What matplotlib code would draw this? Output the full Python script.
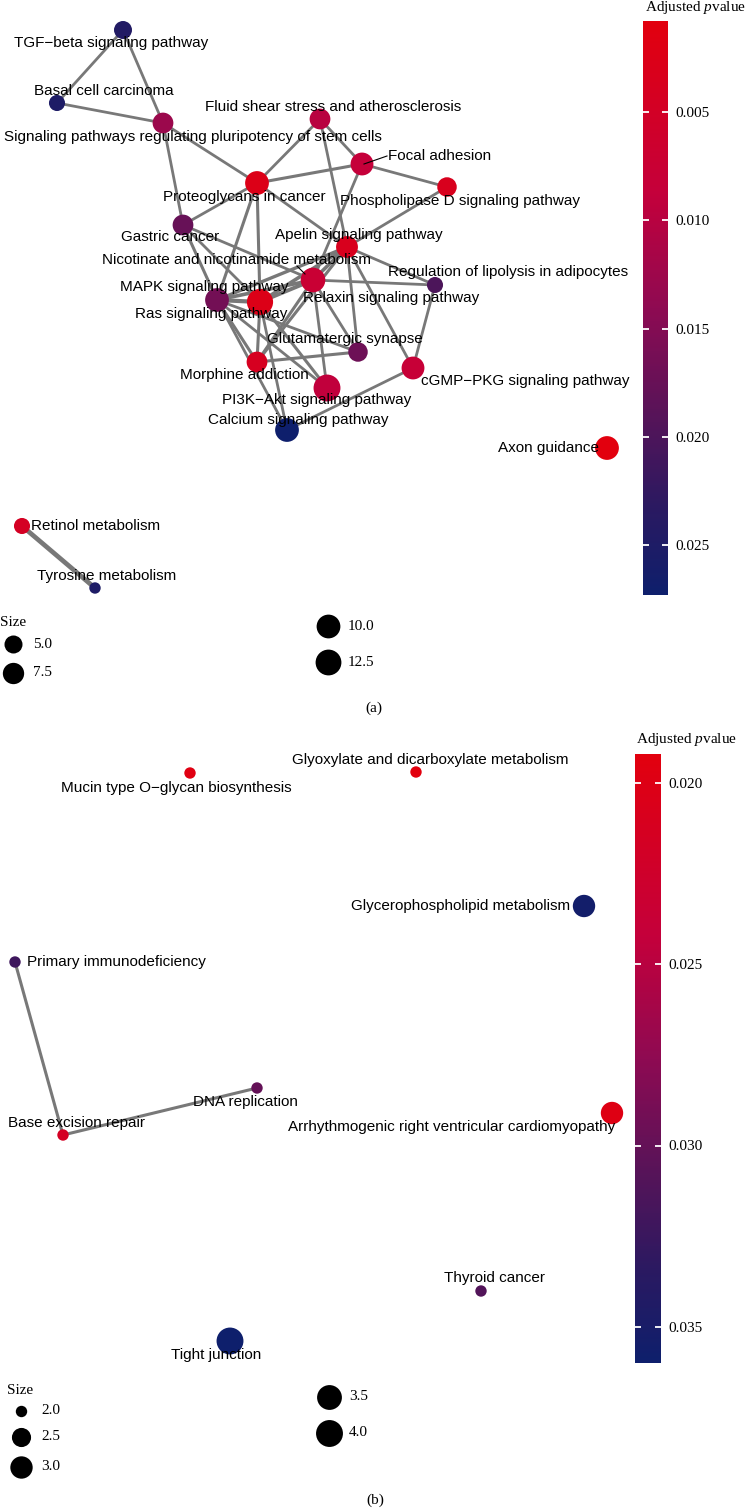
import numpy as np
import matplotlib
matplotlib.use('Agg')
import matplotlib.pyplot as plt
from matplotlib.colors import LinearSegmentedColormap, Normalize
from matplotlib.cm import ScalarMappable

plt.rcParams['font.family'] = ['Liberation Sans', 'DejaVu Sans']
plt.rcParams['mathtext.fontset'] = 'custom'
plt.rcParams['mathtext.rm'] = 'Liberation Serif'
plt.rcParams['mathtext.it'] = 'Liberation Serif:italic'

# ---------------- panel (a) ----------------
a_terms = ['TGF−beta signaling pathway', 'Basal cell carcinoma',
           'Signaling pathways regulating pluripotency of stem cells',
           'Fluid shear stress and atherosclerosis', 'Focal adhesion',
           'Phospholipase D signaling pathway', 'Proteoglycans in cancer',
           'Gastric cancer', 'Apelin signaling pathway',
           'Nicotinate and nicotinamide metabolism', 'Relaxin signaling pathway',
           'Regulation of lipolysis in adipocytes', 'MAPK signaling pathway',
           'Ras signaling pathway', 'Glutamatergic synapse', 'Morphine addiction',
           'PI3K−Akt signaling pathway', 'cGMP−PKG signaling pathway',
           'Calcium signaling pathway', 'Axon guidance', 'Retinol metabolism',
           'Tyrosine metabolism']
# layout coordinates (graph layout)
a_x = [123, 57, 163, 320, 362, 447, 257, 183, 347, 310, 313, 435, 217, 260,
       358, 257, 327, 413, 287, 607, 22, 95]
a_y = [30, 103, 123, 119, 164, 187, 183, 225, 247, 279, 280, 285, 300, 302,
       352, 362, 388, 368, 430, 448, 526, 588]
a_count = [5, 4, 7, 7, 9, 6, 10, 7, 8, 4, 11, 4, 10, 13, 6, 7, 14, 9, 10, 10, 4, 3]
a_padj = [0.0245, 0.0250, 0.0128, 0.0100, 0.0085, 0.0035, 0.0025, 0.0175,
          0.0035, 0.0090, 0.0075, 0.0200, 0.0165, 0.0025, 0.0170, 0.0040,
          0.0090, 0.0080, 0.0273, 0.0008, 0.0045, 0.0250]
a_edges = [
    ('TGF−beta signaling pathway', 'Basal cell carcinoma', 0.25),
    ('TGF−beta signaling pathway', 'Signaling pathways regulating pluripotency of stem cells', 0.25),
    ('Basal cell carcinoma', 'Signaling pathways regulating pluripotency of stem cells', 0.25),
    ('Signaling pathways regulating pluripotency of stem cells', 'Proteoglycans in cancer', 0.25),
    ('Signaling pathways regulating pluripotency of stem cells', 'Gastric cancer', 0.25),
    ('Proteoglycans in cancer', 'Fluid shear stress and atherosclerosis', 0.25),
    ('Proteoglycans in cancer', 'Focal adhesion', 0.3),
    ('Fluid shear stress and atherosclerosis', 'Focal adhesion', 0.25),
    ('Fluid shear stress and atherosclerosis', 'Apelin signaling pathway', 0.25),
    ('Focal adhesion', 'Phospholipase D signaling pathway', 0.25),
    ('Focal adhesion', 'Relaxin signaling pathway', 0.25),
    ('Phospholipase D signaling pathway', 'Apelin signaling pathway', 0.25),
    ('Proteoglycans in cancer', 'Apelin signaling pathway', 0.25),
    ('Proteoglycans in cancer', 'MAPK signaling pathway', 0.3),
    ('Proteoglycans in cancer', 'Ras signaling pathway', 0.3),
    ('Proteoglycans in cancer', 'Gastric cancer', 0.25),
    ('Gastric cancer', 'MAPK signaling pathway', 0.3),
    ('Gastric cancer', 'Ras signaling pathway', 0.25),
    ('Gastric cancer', 'Relaxin signaling pathway', 0.25),
    ('MAPK signaling pathway', 'Ras signaling pathway', 0.5),
    ('MAPK signaling pathway', 'Relaxin signaling pathway', 0.4),
    ('MAPK signaling pathway', 'Apelin signaling pathway', 0.35),
    ('MAPK signaling pathway', 'Morphine addiction', 0.3),
    ('MAPK signaling pathway', 'Calcium signaling pathway', 0.25),
    ('MAPK signaling pathway', 'Glutamatergic synapse', 0.25),
    ('MAPK signaling pathway', 'PI3K−Akt signaling pathway', 0.25),
    ('Ras signaling pathway', 'Relaxin signaling pathway', 0.45),
    ('Ras signaling pathway', 'Apelin signaling pathway', 0.4),
    ('Ras signaling pathway', 'Morphine addiction', 0.3),
    ('Ras signaling pathway', 'PI3K−Akt signaling pathway', 0.3),
    ('Ras signaling pathway', 'Calcium signaling pathway', 0.25),
    ('Relaxin signaling pathway', 'Regulation of lipolysis in adipocytes', 0.25),
    ('Relaxin signaling pathway', 'PI3K−Akt signaling pathway', 0.25),
    ('Relaxin signaling pathway', 'Glutamatergic synapse', 0.25),
    ('Relaxin signaling pathway', 'Apelin signaling pathway', 0.4),
    ('Relaxin signaling pathway', 'Morphine addiction', 0.3),
    ('Apelin signaling pathway', 'Regulation of lipolysis in adipocytes', 0.25),
    ('Apelin signaling pathway', 'Glutamatergic synapse', 0.25),
    ('Apelin signaling pathway', 'cGMP−PKG signaling pathway', 0.25),
    ('Apelin signaling pathway', 'Morphine addiction', 0.3),
    ('Regulation of lipolysis in adipocytes', 'cGMP−PKG signaling pathway', 0.25),
    ('Morphine addiction', 'Glutamatergic synapse', 0.3),
    ('Calcium signaling pathway', 'cGMP−PKG signaling pathway', 0.25),
    ('Retinol metabolism', 'Tyrosine metabolism', 0.6),
]
a_ticks = [0.005, 0.010, 0.015, 0.020, 0.025]
a_size_breaks = [5.0, 7.5, 10.0, 12.5]

# ---------------- panel (b) ----------------
b_terms = ['Mucin type O−glycan biosynthesis', 'Glyoxylate and dicarboxylate metabolism',
           'Glycerophospholipid metabolism', 'Primary immunodeficiency',
           'DNA replication', 'Base excision repair',
           'Arrhythmogenic right ventricular cardiomyopathy', 'Thyroid cancer',
           'Tight junction']
b_x = [190, 416, 584, 15, 257, 63, 612, 481, 230]
b_y = [773, 772, 906, 962, 1088, 1135, 1113, 1291, 1341]
b_count = [2, 2, 3, 2, 2, 2, 3, 2, 4]
b_padj = [0.0196, 0.0192, 0.0355, 0.0322, 0.0300, 0.0215, 0.0198, 0.0310, 0.0360]
b_edges = [
    ('Primary immunodeficiency', 'Base excision repair', 0.3),
    ('Base excision repair', 'DNA replication', 0.3),
]
b_ticks = [0.020, 0.025, 0.030, 0.035]
b_size_breaks = [2.0, 2.5, 3.0, 3.5, 4.0]

# label offsets (repel-like placement), px relative to node
label_pos = {
    'TGF−beta signaling pathway': (-12, 13),
    'Basal cell carcinoma': (47, -12),
    'Signaling pathways regulating pluripotency of stem cells': (30, 14),
    'Fluid shear stress and atherosclerosis': (13, -12),
    'Focal adhesion': (78, -8),
    'Phospholipase D signaling pathway': (13, 14),
    'Proteoglycans in cancer': (-13, 14),
    'Gastric cancer': (-13, 12),
    'Apelin signaling pathway': (12, -12),
    'Nicotinate and nicotinamide metabolism': (-73, -19),
    'Relaxin signaling pathway': (78, 18),
    'Regulation of lipolysis in adipocytes': (73, -13),
    'MAPK signaling pathway': (-13, -13),
    'Ras signaling pathway': (-49, 12),
    'Glutamatergic synapse': (-13, -13),
    'Morphine addiction': (-13, 13),
    'PI3K−Akt signaling pathway': (-10, 12),
    'cGMP−PKG signaling pathway': (112, 13),
    'Calcium signaling pathway': (11, -10),
    'Axon guidance': (-58, 0),
    'Retinol metabolism': (74, 0),
    'Tyrosine metabolism': (12, -12),
    'Mucin type O−glycan biosynthesis': (-14, 15),
    'Glyoxylate and dicarboxylate metabolism': (14, -12),
    'Glycerophospholipid metabolism': (-123, 0),
    'Primary immunodeficiency': (101, 0),
    'DNA replication': (-12, 14),
    'Base excision repair': (14, -12),
    'Arrhythmogenic right ventricular cardiomyopathy': (-160, 14),
    'Thyroid cancer': (14, -13),
    'Tight junction': (-14, 14),
}
leaders = {
    'Focal adhesion': ((2, 0), (25, -8)),
    'Nicotinate and nicotinamide metabolism': ((-13, -13), (-5, -5)),
}

cmap = LinearSegmentedColormap.from_list(
    'padj', [(0.0, '#E2000E'), (0.3, '#C4003B'), (0.5, '#8E0A52'),
             (0.7, '#531459'), (0.85, '#2A1961'), (1.0, '#0E1F6C')])

W, H = 749, 1508
fig = plt.figure(figsize=(W / 100, H / 100), dpi=100)
ax = fig.add_axes([0, 0, 1, 1])
ax.set_xlim(0, W)
ax.set_ylim(H, 0)
ax.axis('off')


def radius_px(c, cmin, cmax):
    t = (c - cmin) / (cmax - cmin)
    return 4.15 + 1.55 * (1 + 5 * np.sqrt(t))


def area(r):
    return (2 * r * 0.72) ** 2


def draw_panel(terms, xs, ys, counts, padj, edges):
    idx = {t: i for i, t in enumerate(terms)}
    for s, t, w in edges:
        i, j = idx[s], idx[t]
        ax.plot([xs[i], xs[j]], [ys[i], ys[j]], color='#787878',
                lw=1.0 + 4 * w, solid_capstyle='butt', zorder=1)
    norm = Normalize(min(padj), max(padj))
    cmin, cmax = min(counts), max(counts)
    sizes = [area(radius_px(c, cmin, cmax)) for c in counts]
    ax.scatter(xs, ys, s=sizes, c=padj, cmap=cmap, norm=norm,
               linewidths=0, zorder=2)
    for k, name in enumerate(terms):
        dx, dy = label_pos[name]
        ax.text(xs[k] + dx, ys[k] + dy, name, ha='center', va='center',
                fontsize=11, color='black', zorder=3)
        if name in leaders:
            (x0, y0), (x1, y1) = leaders[name]
            ax.plot([xs[k] + x0, xs[k] + x1], [ys[k] + y0, ys[k] + y1],
                    color='black', lw=0.8, zorder=3)
    return norm, cmin, cmax


def draw_colorbar(rect, norm, ticks, title_xy):
    x, y, w, h = rect
    cax = fig.add_axes([x / W, 1 - (y + h) / H, w / W, h / H])
    cb = fig.colorbar(ScalarMappable(norm=norm, cmap=cmap), cax=cax)
    cb.outline.set_visible(False)
    cb.set_ticks(ticks, labels=['%.3f' % t for t in ticks])
    cax.invert_yaxis()
    cax.tick_params(axis='y', left=True, right=True, direction='in',
                    length=4, width=1.3, color='white', labelsize=11, pad=5,
                    labelfontfamily='Liberation Serif')
    ax.text(title_xy[0], title_xy[1], r'Adjusted $\mathit{p}$value',
            family='Liberation Serif', fontsize=11, ha='left', va='center')


def draw_size_legend(breaks, cmin, cmax, title_xy, left_pos, right_pos):
    ax.text(title_xy[0], title_xy[1], 'Size', family='Liberation Serif',
            fontsize=11, ha='left', va='center')
    pos = left_pos + right_pos
    for b, (px, py) in zip(breaks, pos):
        ax.scatter([px], [py], s=area(radius_px(b, cmin, cmax)), color='black',
                   linewidths=0, zorder=2)
        ax.text(px + 20, py, '%.1f' % b, family='Liberation Serif',
                fontsize=11, ha='left', va='center')


norm_a, amin, amax = draw_panel(a_terms, a_x, a_y, a_count, a_padj, a_edges)
norm_b, bmin, bmax = draw_panel(b_terms, b_x, b_y, b_count, b_padj, b_edges)

draw_colorbar((643, 21, 25, 574), norm_a, a_ticks, (645, 8))
draw_colorbar((635, 754, 26, 609), norm_b, b_ticks, (636, 739))

draw_size_legend(a_size_breaks, amin, amax, (0, 622),
                 [(13, 644), (13, 673)], [(328, 626), (328, 662)])
draw_size_legend(b_size_breaks, bmin, bmax, (7, 1391),
                 [(21, 1411), (21, 1437), (21, 1467)], [(329, 1397), (329, 1433)])

ax.text(374, 708, '(a)', family='Liberation Serif', fontsize=11,
        ha='center', va='center')
ax.text(375, 1500, '(b)', family='Liberation Serif', fontsize=11,
        ha='center', va='center')

fig.savefig('out.png', dpi=100)
